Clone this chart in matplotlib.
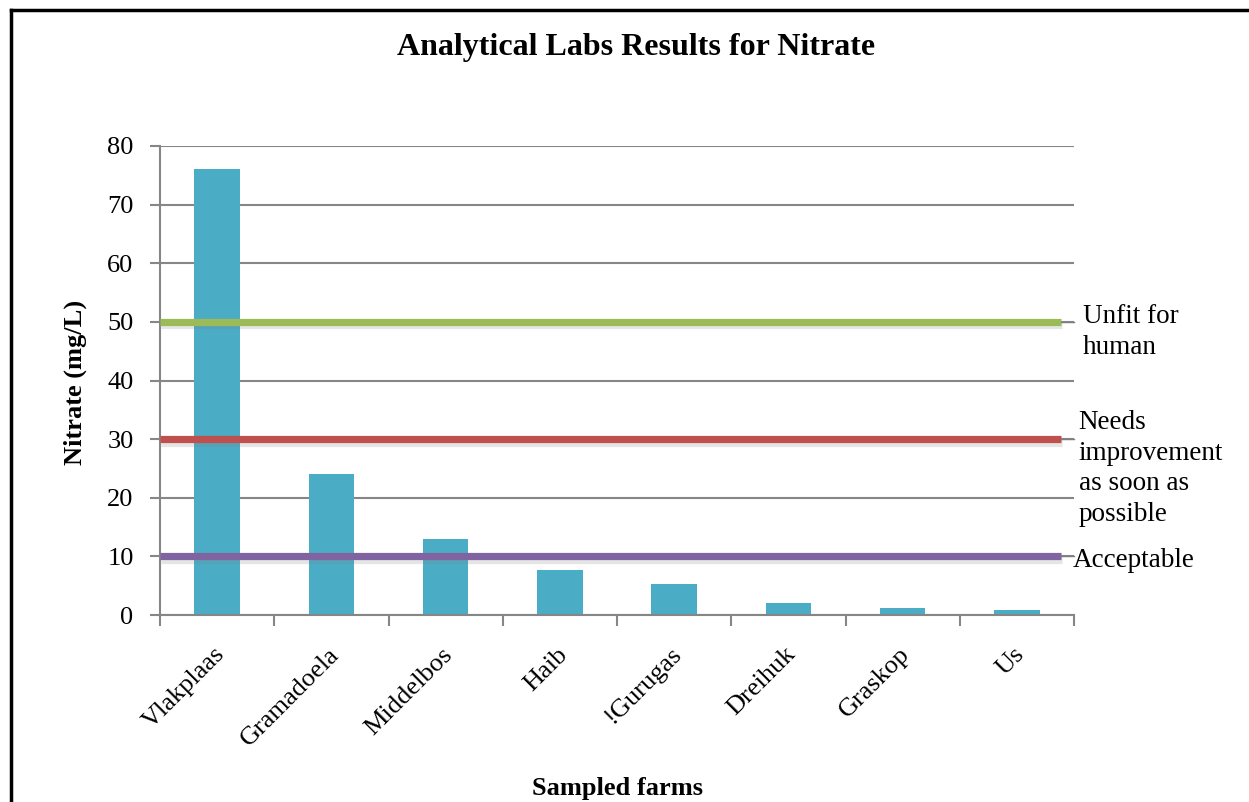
import numpy as np
import matplotlib
matplotlib.use("Agg")
import matplotlib.pyplot as plt
import matplotlib.patheffects as pe
from matplotlib.transforms import ScaledTranslation
from matplotlib.lines import Line2D

plt.rcParams['font.family'] = ['Liberation Serif', 'DejaVu Serif']

farms = ['Vlakplaas', 'Gramadoela', 'Middelbos', 'Haib', '!Gurugas',
         'Dreihuk', 'Graskop', 'Us']
nitrate = [76, 24, 13, 7.7, 5.3, 2.0, 1.2, 0.8]

limit_values = [50, 30, 10]
limit_labels = ['Unfit for\nhuman', 'Needs\nimprovement\nas soon as\npossible', 'Acceptable']
limit_colors = ['#9BBB59', '#C0504D', '#8064A2']

fig = plt.figure(figsize=(12.49, 8.02), dpi=100)
ax = fig.add_axes([160/1249, 1-615/802, (1074-160)/1249, (615-146)/802])

x = np.arange(len(farms))
ax.bar(x, nitrate, width=0.4, color='#4BACC6', zorder=2)

shadow = [pe.SimpleLineShadow(offset=(0.5, -2.5), shadow_color='gray', alpha=0.2), pe.Normal()]
line_end = 7.39
for val, col in zip(limit_values, limit_colors):
    ax.plot([-0.5, line_end], [val, val], color=col, lw=5.2, zorder=3,
            solid_capstyle='butt', path_effects=shadow)
    # leader line to label
    ax.plot([line_end, 7.5], [val, val], color='#7f7f7f', lw=1, zorder=3, clip_on=False)

ax.text(7.58, 53.0, limit_labels[0], fontsize=19.5, va='top', ha='left',
        linespacing=1.3)
ax.text(7.54, 35.0, limit_labels[1], fontsize=19.5, va='top', ha='left',
        linespacing=1.3)
ax.text(7.49, 9.3, limit_labels[2], fontsize=19.5, va='center', ha='left')

ax.set_xlim(-0.5, 7.5)
ax.set_ylim(0, 80)
ax.set_yticks(np.arange(0, 81, 10))
ax.yaxis.grid(True, color='#868686', lw=1.5, zorder=0)
ax.set_axisbelow(True)

ax.set_xticks(x)
ax.set_xticklabels(farms, rotation=45, ha='right', va='center',
                   rotation_mode='anchor', fontsize=19)
ax.set_xticks(np.arange(-0.5, 8, 1), minor=True)
ax.tick_params(axis='x', which='major', length=0, pad=26)
ax.tick_params(axis='x', which='minor', length=8, color='#868686', width=1.5)
ax.tick_params(axis='y', length=7, color='#868686', width=1.5, pad=12, labelsize=19)
for lab in ax.get_xticklabels():
    lab.set_transform(lab.get_transform() + ScaledTranslation(0.04, 0, fig.dpi_scale_trans))

for s in ['top', 'right']:
    ax.spines[s].set_visible(False)
for s in ['left', 'bottom']:
    ax.spines[s].set_color('#868686')
    ax.spines[s].set_linewidth(1.5)

fig.text(636/1249, 1-48/802, 'Analytical Labs Results for Nitrate',
         fontsize=23, fontweight='bold', ha='center', va='center')
fig.text(617/1249, 1-789/802, 'Sampled farms', fontsize=19,
         fontweight='bold', ha='center', va='center')
fig.text(75/1249, 1-382/802, 'Nitrate (mg/L)', fontsize=19,
         fontweight='bold', ha='center', va='center', rotation=90)

# outer frame
fig.add_artist(Line2D([11/1249, 11/1249], [0, 1-10/802], color='black', lw=2.5,
                      transform=fig.transFigure))
fig.add_artist(Line2D([11/1249, 1], [1-10/802, 1-10/802], color='black', lw=2.5,
                      transform=fig.transFigure))

fig.savefig('out.png', dpi=100)
